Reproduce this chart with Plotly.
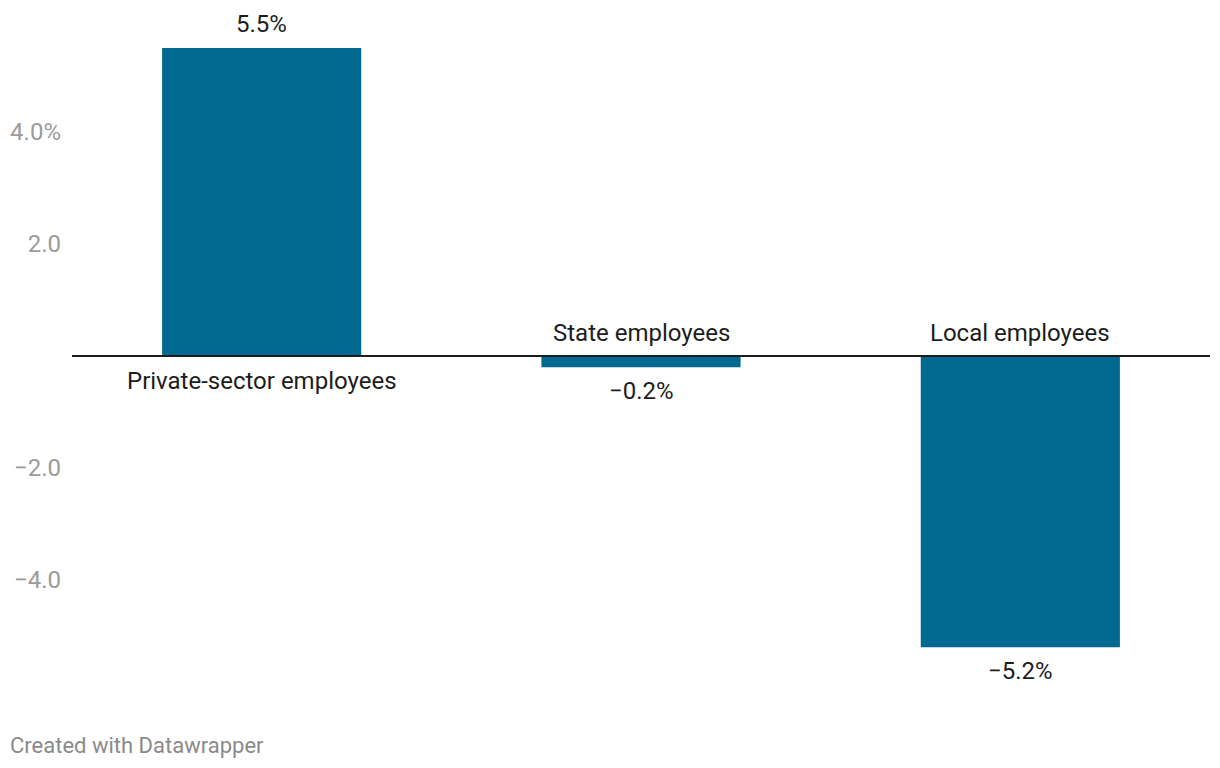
import plotly.graph_objects as go

categories = ["Private-sector employees", "State employees", "Local employees"]
values = [5.5, -0.2, -5.2]
value_labels = ["5.5%", "−0.2%", "−5.2%"]
tick_vals = [-4, -2, 2, 4]
tick_text = ["−4.0", "−2.0", "2.0", "4.0%"]

BAR = "#00698f"
FONT = "Roboto, Arial, sans-serif"

ML, MR, MT, MB = 64, 18, 12, 84
PW = 1220 - ML - MR
PH = 768 - MT - MB

fig = go.Figure()
fig.add_trace(go.Bar(x=categories, y=values, marker=dict(color=BAR, line=dict(width=0)),
                     hoverinfo="skip"))

for c, v, t in zip(categories, values, value_labels):
    s = 1 if v >= 0 else -1
    fig.add_annotation(x=c, y=v, text=t, showarrow=False, yanchor="middle",
                       yshift=24 * s, font=dict(family=FONT, size=24, color="#1d1d1d"))
    fig.add_annotation(x=c, y=0, text=c, showarrow=False, yanchor="middle",
                       yshift=(-25 if s > 0 else 23), font=dict(family=FONT, size=24, color="#1d1d1d"))

fig.add_shape(type="line", xref="paper", x0=0, x1=1, yref="y", y0=0, y1=0,
              line=dict(color="#1d1d1d", width=2))

fig.add_annotation(xref="paper", yref="paper", x=-ML / PW, y=-53 / PH, xanchor="left",
                   yanchor="middle", text="Created with Datawrapper", showarrow=False,
                   font=dict(family=FONT, size=22, color="#8a8a8a"))

fig.update_layout(
    width=1220, height=768,
    margin=dict(l=ML, r=MR, t=MT, b=MB, autoexpand=False),
    paper_bgcolor="white", plot_bgcolor="white",
    bargap=0.475,
    showlegend=False,
    xaxis=dict(showticklabels=False, showgrid=False, zeroline=False, showline=False, ticks=""),
    yaxis=dict(range=[-6, 6], tickvals=tick_vals, ticktext=tick_text, showgrid=False,
               zeroline=False, showline=False, ticks="", ticklabelstandoff=10,
               automargin=False,
               tickfont=dict(family=FONT, size=24, color="#9b9b9b")),
)

fig.write_html("out.html")
